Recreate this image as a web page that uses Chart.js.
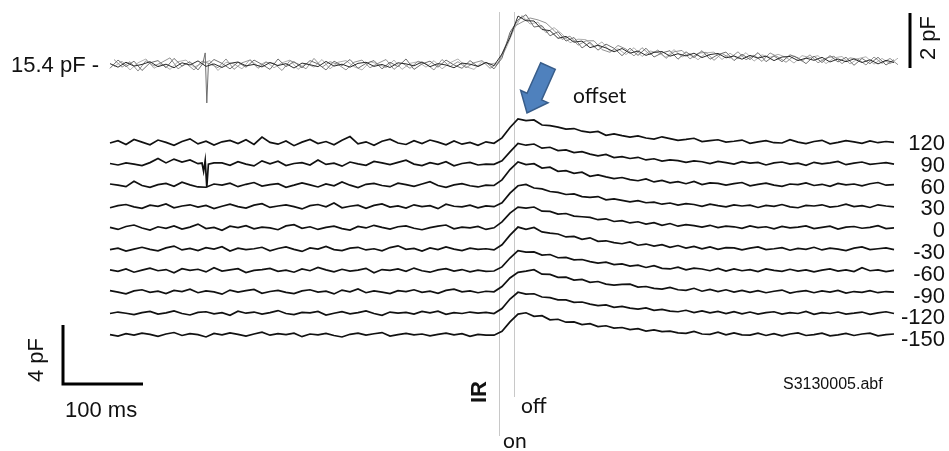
<!DOCTYPE html>
<html>
<head>
<meta charset="utf-8">
<script src="https://cdn.jsdelivr.net/npm/chart.js@4.4.0/dist/chart.umd.min.js"></script>
<style>
  html, body { margin: 0; padding: 0; background: #fff; }
  canvas { display: block; }
</style>
</head>
<body>
<canvas id="capChart" width="949" height="451"></canvas>
<script>
// sweep time (ms), one sample every 10 ms; some sweeps were sampled half a step later
const timeMs = [0,10,20,30,40,50,60,70,80,90,100,110,120,130,140,150,160,170,180,190,200,210,220,230,240,250,260,270,280,290,300,310,320,330,340,350,360,370,380,390,400,410,420,430,440,450,460,470,480,490,500,510,520,530,540,550,560,570,580,590,600,610,620,630,640,650,660,670,680,690,700,710,720,730,740,750,760,770,780,790,800,810,820,830,840,850,860,870,880,890,900,910,920,930,940,950,960,970,980];
const timeMsLate = [5,15,25,35,45,55,65,75,85,95,105,115,125,135,145,155,165,175,185,195,205,215,225,235,245,255,265,275,285,295,305,315,325,335,345,355,365,375,385,395,405,415,425,435,445,455,465,475,485,495,505,515,525,535,545,555,565,575,585,595,605,615,625,635,645,655,665,675,685,695,705,715,725,735,745,755,765,775,785,795,805,815,825,835,845,855,865,875,885,895,905,915,925,935,945,955,965,975,985];

// IR pulse on / off (ms)
const irOnMs = 486;
const irOffMs = 505;

// top panel: overlaid sweeps, pF above the 15.4 pF resting level
const topBaselinePF = 15.4;
const topRunA = [0.05,-0.08,0.10,-0.04,0.02,0.12,-0.06,0.03,-0.10,0.08,0.00,0.15,-0.05,0.04,-0.09,0.06,0.11,-0.03,0.02,-0.07,0.09,-0.02,0.05,-0.11,0.07,0.01,-0.06,0.13,-0.04,0.03,-0.08,0.06,0.10,-0.05,0.02,-0.09,0.08,0.04,-0.03,0.11,-0.06,0.05,0.00,-0.10,0.07,0.03,-0.05,0.09,-0.02,
  0.40,1.00,1.78,1.61,1.60,1.29,1.25,0.97,1.04,0.83,0.87,0.63,0.72,0.62,0.48,0.60,0.43,0.51,0.35,0.46,0.49,0.32,0.41,0.33,0.43,0.27,0.38,0.42,0.26,0.33,0.21,0.35,0.25,0.32,0.16,0.29,0.31,0.16,0.25,0.17,0.28,0.11,0.22,0.12,0.22,0.09,0.19,0.04,0.17,0.09];
const topRunB = [-0.12,0.18,-0.06,0.14,-0.20,0.08,0.16,-0.10,0.24,-0.04,0.12,-0.18,-0.10,0.20,0.06,-0.14,0.10,-0.08,0.18,0.02,-0.16,0.22,-0.06,0.12,-0.10,0.16,0.04,-0.18,0.14,-0.02,0.20,-0.12,0.06,0.16,-0.14,0.10,-0.06,0.22,-0.16,0.04,0.14,-0.08,0.18,0.00,-0.12,0.16,-0.06,0.10,-0.14,
  0.25,1.19,1.64,1.83,1.38,1.43,1.06,1.21,0.87,1.00,0.62,0.82,0.54,0.76,0.61,0.34,0.61,0.35,0.61,0.29,0.44,0.52,0.21,0.48,0.27,0.52,0.21,0.38,0.47,0.16,0.39,0.20,0.45,0.12,0.33,0.12,0.37,0.26,0.05,0.32,0.09,0.34,0.11,0.28,-0.01,0.24,0.05,0.28,0.00,0.19];
// brief artefact in sweep B
const topSpikeMs = [116,119,121,123];
const topSpikePF = [0.05,0.44,-1.38,0.02];
const topRunC = [0.20,-0.08,0.12,-0.22,0.16,-0.04,0.10,0.26,-0.14,0.06,-0.18,0.14,0.04,-0.10,0.22,-0.16,0.08,0.18,-0.12,0.10,0.06,-0.20,0.16,0.04,-0.14,0.24,-0.08,0.12,0.02,-0.18,0.10,0.18,-0.10,0.06,0.20,-0.16,0.08,-0.12,0.14,0.04,-0.18,0.20,-0.06,0.12,-0.10,0.08,0.16,-0.12,0.06,
  0.75,1.40,1.56,1.71,1.64,1.53,1.26,0.93,1.05,0.72,0.88,0.88,0.56,0.46,0.71,0.58,0.33,0.63,0.37,0.55,0.24,0.48,0.53,0.22,0.43,0.46,0.17,0.42,0.25,0.48,0.19,0.36,0.13,0.44,0.29,0.10,0.33,0.14,0.37,0.08,0.25,0.32,0.05,0.26,0.21,0.00,0.29,0.06,0.24,0.01];
const topRunD = [-0.06,0.14,-0.18,0.08,0.22,-0.12,0.04,-0.16,0.12,0.18,-0.08,0.06,0.16,-0.20,0.10,0.04,-0.14,0.20,-0.04,0.12,-0.10,0.08,0.18,-0.16,0.06,-0.08,0.20,-0.14,0.10,0.16,-0.06,-0.18,0.12,0.04,-0.10,0.18,-0.16,0.06,0.12,-0.08,0.16,-0.14,0.08,0.22,-0.06,-0.16,0.12,0.04,0.08,
  0.60,1.30,1.80,1.49,1.56,1.17,1.36,1.13,0.81,0.94,0.92,0.64,0.84,0.50,0.59,0.38,0.63,0.31,0.51,0.45,0.28,0.56,0.29,0.42,0.19,0.44,0.47,0.20,0.43,0.22,0.45,0.14,0.37,0.28,0.39,0.28,0.07,0.34,0.27,0.34,0.05,0.26,0.31,0.04,0.23,0.30,0.03,0.24,0.04,0.25];

// lower panel: one averaged trace per condition, change in pF
const conditionLabels = ['120','90','60','30','0','-30','-60','-90','-120','-150'];
const trace120 = [0.00,0.16,-0.10,0.24,0.06,-0.12,0.20,0.04,-0.16,0.10,0.28,-0.06,0.12,-0.14,0.08,0.18,-0.04,0.22,-0.10,0.40,0.04,-0.08,0.14,-0.18,0.06,0.24,-0.04,0.10,-0.12,0.18,0.44,-0.06,0.08,-0.16,0.12,0.26,0.00,-0.10,0.16,-0.04,0.20,0.06,-0.12,0.14,-0.08,0.04,-0.16,0.08,
  -0.02,0.35,1.05,1.63,1.52,1.56,1.22,1.18,1.08,0.94,0.98,0.80,0.72,0.78,0.52,0.62,0.50,0.40,0.48,0.34,0.26,0.42,0.30,0.18,0.24,0.32,0.10,0.16,0.22,0.06,0.12,0.20,-0.02,0.08,0.16,0.02,0.00,0.22,0.06,-0.04,0.10,0.18,-0.06,0.04,0.16,0.08,-0.02,0.14,0.02,0.10,0.04];
const trace90 = [0.06,-0.04,0.10,0.02,-0.08,0.12,0.40,0.10,0.36,0.16,0.30,0.05,0.08,0.10,0.10,-0.06,0.18,0.02,-0.10,0.24,0.04,0.22,-0.08,0.06,0.12,-0.04,0.30,0.00,0.08,-0.12,0.16,0.04,-0.06,0.20,0.10,-0.02,0.14,0.28,0.02,-0.08,0.12,0.00,0.18,-0.10,0.06,0.14,-0.04,0.02,
  0.00,0.25,0.85,1.42,1.30,1.38,1.10,1.16,0.94,0.98,0.80,0.86,0.70,0.58,0.68,0.46,0.52,0.40,0.48,0.30,0.38,0.22,0.30,0.26,0.14,0.24,0.18,0.06,0.20,0.12,0.02,0.18,0.08,0.14,-0.04,0.10,0.16,0.02,0.08,-0.06,0.14,0.04,0.10,0.20,-0.02,0.08,0.16,0.00,0.06,0.12,0.02];
// artefact in the 90 trace
const trace90SpikeMs = [115,117,119,121,123];
const trace90SpikePF = [0.09,-0.47,0.27,-1.55,0.02];
const trace60 = [0.12,0.04,-0.06,0.30,0.02,-0.10,0.08,0.16,-0.04,0.24,0.06,-0.08,-0.10,0.12,0.04,0.18,-0.06,0.10,0.22,-0.02,0.08,0.14,-0.10,0.04,0.20,0.06,-0.08,0.12,0.00,0.26,0.04,-0.12,0.10,0.16,0.02,-0.06,0.18,0.08,-0.04,0.12,0.28,0.02,-0.10,0.06,0.14,0.00,-0.08,0.04,
  0.02,0.40,1.10,1.62,1.44,1.50,1.20,1.26,0.98,1.02,0.84,0.92,0.64,0.74,0.60,0.48,0.56,0.42,0.34,0.46,0.26,0.36,0.20,0.28,0.14,0.30,0.08,0.20,0.16,0.04,0.14,0.22,0.00,0.10,0.18,0.04,-0.04,0.12,0.08,0.20,0.02,0.10,-0.04,0.16,0.06,0.12,0.00,0.14,0.22,0.04,0.08];
const trace30 = [-0.04,0.10,0.18,0.02,-0.08,0.14,0.06,0.22,-0.04,0.08,0.16,0.00,0.12,-0.10,0.06,0.20,0.04,-0.06,0.14,0.24,-0.02,0.08,0.16,0.04,-0.12,0.10,0.18,0.02,0.28,-0.04,0.06,0.14,-0.08,0.12,0.22,0.00,0.08,-0.06,0.16,0.04,0.10,-0.10,0.20,0.06,0.02,0.14,-0.04,0.08,
  0.03,0.30,0.95,1.45,1.54,1.30,1.24,1.06,1.00,0.86,0.90,0.72,0.66,0.72,0.50,0.56,0.46,0.36,0.44,0.30,0.34,0.20,0.28,0.14,0.24,0.18,0.06,0.20,0.10,0.02,0.16,0.08,0.14,-0.02,0.12,0.06,0.18,0.02,-0.04,0.12,0.08,0.16,0.00,0.06,0.20,0.04,0.10,-0.02,0.16,0.08,0.02];
const trace0 = [0.08,-0.06,0.14,0.24,0.04,-0.10,0.12,0.02,0.18,-0.04,0.10,0.30,0.00,0.08,-0.12,0.16,0.06,0.20,-0.02,0.10,0.04,-0.08,0.18,0.26,0.02,0.12,-0.06,0.08,0.16,0.00,-0.10,0.14,0.04,0.22,0.08,-0.04,0.12,0.18,0.02,-0.08,0.06,0.16,0.24,-0.02,0.10,0.04,0.14,-0.06,
  0.05,0.45,1.05,1.45,1.38,1.46,1.18,1.16,0.98,1.02,0.84,0.80,0.76,0.60,0.66,0.48,0.54,0.38,0.46,0.30,0.40,0.22,0.34,0.16,0.26,0.20,0.10,0.22,0.06,0.16,0.12,0.02,0.18,0.06,0.12,-0.02,0.14,0.04,0.10,0.18,0.00,0.08,0.16,-0.04,0.10,0.14,0.02,0.08,0.20,0.00,0.04];
const traceM30 = [0.02,0.12,-0.08,0.06,0.18,0.04,-0.06,0.14,0.26,0.00,0.10,-0.04,0.16,0.06,0.22,-0.08,0.12,0.02,0.08,0.18,-0.06,0.10,0.20,0.04,-0.10,0.14,0.06,0.24,0.02,-0.04,0.12,0.18,0.00,0.08,-0.06,0.16,0.28,0.04,0.10,-0.08,0.14,0.02,0.20,0.06,-0.04,0.12,0.04,0.08,
  0.00,0.35,1.00,1.55,1.40,1.52,1.22,1.14,1.08,0.88,0.92,0.72,0.82,0.58,0.62,0.50,0.42,0.54,0.32,0.40,0.26,0.36,0.18,0.30,0.12,0.24,0.08,0.20,0.04,0.16,0.14,0.00,0.12,0.20,0.02,0.08,0.16,-0.02,0.10,0.04,0.18,0.00,0.12,0.06,-0.04,0.12,0.20,0.02,0.08,0.14,0.02];
const traceM60 = [0.10,0.00,0.16,-0.06,0.08,0.22,0.04,0.12,-0.10,0.18,0.06,0.14,-0.04,0.24,0.02,0.10,0.18,-0.08,0.06,0.12,0.20,0.00,0.08,-0.06,0.16,0.04,0.26,0.10,-0.04,0.14,0.02,0.08,0.20,-0.10,0.12,0.06,0.16,0.00,0.22,0.04,-0.06,0.10,0.18,0.02,0.12,-0.04,0.08,0.00,
  0.02,0.30,0.90,1.40,1.30,1.32,1.10,1.14,0.92,0.94,0.78,0.80,0.66,0.56,0.62,0.46,0.50,0.36,0.42,0.26,0.38,0.20,0.16,0.28,0.10,0.22,0.16,0.04,0.20,0.02,0.16,0.04,0.12,-0.02,0.16,0.06,0.00,0.14,0.02,0.10,-0.04,0.08,0.16,0.02,0.10,-0.02,0.24,0.04,0.10,-0.02,0.06];
const traceM90 = [0.14,0.04,-0.08,0.12,0.20,0.02,0.10,-0.06,0.16,0.08,0.24,0.00,0.12,0.06,-0.10,0.18,0.04,0.14,0.22,-0.04,0.08,0.16,0.02,-0.06,0.12,0.20,0.04,0.10,-0.08,0.18,0.06,0.26,0.00,0.12,0.04,-0.06,0.14,0.08,0.20,0.02,0.10,-0.04,0.16,0.24,0.06,0.12,0.00,0.10,
  0.06,0.42,1.00,1.38,1.46,1.56,1.26,1.24,1.04,1.06,0.86,0.90,0.70,0.76,0.58,0.52,0.56,0.58,0.38,0.42,0.30,0.24,0.36,0.20,0.16,0.30,0.10,0.22,0.08,0.20,0.04,0.16,0.02,0.14,0.00,0.10,0.18,-0.02,0.08,0.14,0.00,0.12,0.04,0.16,-0.02,0.08,0.02,0.14,0.00,0.08,0.04];
const traceM120 = [0.04,0.14,0.06,-0.04,0.10,0.18,0.00,0.08,0.22,0.04,-0.06,0.12,0.16,0.02,0.10,-0.08,0.20,0.06,0.14,0.00,0.10,0.24,0.04,-0.04,0.12,0.08,0.18,-0.06,0.06,0.16,0.02,0.10,0.22,0.04,-0.08,0.14,0.06,0.12,0.00,0.18,0.08,0.20,-0.02,0.10,0.04,0.14,0.06,0.12,
  0.04,0.38,1.02,1.48,1.36,1.38,1.16,1.12,0.96,0.96,0.80,0.82,0.68,0.58,0.62,0.46,0.52,0.40,0.34,0.42,0.26,0.32,0.20,0.16,0.26,0.10,0.22,0.08,0.18,0.04,0.16,0.02,0.14,0.00,0.10,0.16,0.00,0.10,0.04,0.18,-0.02,0.10,0.04,0.14,0.00,0.06,0.14,-0.02,0.08,0.16,0.04];
const traceM150 = [0.06,-0.04,0.12,0.02,0.16,0.08,-0.06,0.10,0.20,0.00,0.12,0.06,-0.10,0.14,0.04,0.18,0.08,-0.04,0.10,0.22,0.02,0.12,0.06,0.16,-0.08,0.10,0.04,0.14,0.00,-0.10,0.08,0.16,0.02,0.12,0.20,-0.04,0.06,0.14,0.04,0.10,-0.02,0.08,0.16,0.04,0.12,-0.06,0.08,0.02,
  0.02,0.28,0.92,1.45,1.54,1.30,1.34,1.06,1.10,0.90,0.92,0.74,0.80,0.60,0.66,0.50,0.54,0.40,0.46,0.30,0.38,0.26,0.30,0.18,0.14,0.28,0.10,0.08,0.22,0.04,0.18,0.04,0.02,0.16,0.00,0.12,-0.02,0.10,0.18,0.00,0.06,0.16,-0.02,0.04,0.14,0.00,0.10,0.16,-0.02,0.06,0.10];
const conditionTraces = [trace120, trace90, trace60, trace30, trace0, traceM30, traceM60, traceM90, traceM120, traceM150];

// scale bars
const topBarPF = 2;
const lowBarPF = 4;
const lowBarMs = 100;

// ---- layout (pixels) ----
const W = 949, H = 451;
const pxPerMs = 0.8;
const sweepStartPx = 110;
const topPxPerPF = 27.5, topBaselinePx = 65;
const lowPxPerPF = 14.75, lowFirstPx = 143;
const traceStepPF = 1.45;

const xMin = -sweepStartPx / pxPerMs;
const xMax = (W - sweepStartPx) / pxPerMs;
const topMax = topBaselinePF + topBaselinePx / topPxPerPF;
const topMin = topMax - H / topPxPerPF;
const lowMax = lowFirstPx / lowPxPerPF;
const lowMin = lowMax - H / lowPxPerPF;

// samples -> points, with optional extra samples that replace the ones they cover
function toPoints(times, vals, extraTimes, extraVals) {
  let pts = vals.map((v, i) => ({x: times[i], y: v}));
  if (extraTimes) {
    const lo = extraTimes[0], hi = extraTimes[extraTimes.length - 1];
    pts = pts.filter(p => p.x < lo || p.x > hi)
      .concat(extraTimes.map((t, i) => ({x: t, y: extraVals[i]})));
    pts.sort((a, b) => a.x - b.x);
  }
  return pts;
}

const datasets = [];
const topSweeps = [
  {pts: toPoints(timeMs, topRunA), color: '#2a2a2a'},
  {pts: toPoints(timeMs, topRunB, topSpikeMs, topSpikePF), color: '#6e6e6e'},
  {pts: toPoints(timeMsLate, topRunC), color: '#929292'},
  {pts: toPoints(timeMsLate, topRunD), color: '#b0b0b0'}
];
topSweeps.forEach(s => {
  datasets.push({
    data: s.pts.map(p => ({x: p.x, y: topBaselinePF + p.y})),
    yAxisID: 'yTop', borderColor: s.color, borderWidth: 1
  });
});
conditionTraces.forEach((tr, k) => {
  const pts = k === 1 ? toPoints(timeMs, tr, trace90SpikeMs, trace90SpikePF) : toPoints(timeMs, tr);
  datasets.push({
    data: pts.map(p => ({x: p.x, y: p.y - k * traceStepPF})),
    yAxisID: 'yLow', borderColor: '#111', borderWidth: 1.7
  });
});

// scale bar positions
const topBarX = 1000, topBarLow = topBaselinePF - 0.11;
datasets.push({
  data: [{x: topBarX, y: topBarLow}, {x: topBarX, y: topBarLow + topBarPF}],
  yAxisID: 'yTop', borderColor: '#000', borderWidth: 3
});
const lowBarX = -58.75, lowBarY = -16.34;
datasets.push({
  data: [{x: lowBarX, y: lowBarY + lowBarPF}, {x: lowBarX, y: lowBarY}, {x: lowBarX + lowBarMs, y: lowBarY}],
  yAxisID: 'yLow', borderColor: '#000', borderWidth: 3
});

const SANS = '"Liberation Sans", Arial, sans-serif';
const LATO = 'Lato, "Open Sans", sans-serif';

function rotText(ctx, txt, x, y) {
  ctx.save();
  ctx.translate(x, y);
  ctx.rotate(-Math.PI / 2);
  ctx.textAlign = 'center';
  ctx.textBaseline = 'middle';
  ctx.fillText(txt, 0, 0);
  ctx.restore();
}

const decorations = {
  id: 'decorations',
  beforeDatasetsDraw(chart) {
    const ctx = chart.ctx, x = chart.scales.x;
    ctx.save();
    ctx.strokeStyle = '#c8c8c8';
    ctx.lineWidth = 1;
    [[irOnMs, 12, 436], [irOffMs, 12, 397]].forEach(([t, y0, y1]) => {
      const px = Math.round(x.getPixelForValue(t)) + 0.5;
      ctx.beginPath(); ctx.moveTo(px, y0); ctx.lineTo(px, y1); ctx.stroke();
    });
    ctx.restore();
  },
  afterDatasetsDraw(chart) {
    const ctx = chart.ctx;
    const yTop = chart.scales.yTop, yLow = chart.scales.yLow;
    ctx.save();
    ctx.fillStyle = '#111';
    ctx.font = '22px ' + SANS;
    ctx.textAlign = 'left';
    ctx.textBaseline = 'middle';
    ctx.fillText('15.4 pF -', 11, yTop.getPixelForValue(topBaselinePF) + 1);

    rotText(ctx, topBarPF + ' pF', 929, 38);
    rotText(ctx, lowBarPF + ' pF', 37, 360);

    ctx.textAlign = 'right';
    conditionLabels.forEach((lab, k) => {
      ctx.fillText(lab, 945, yLow.getPixelForValue(-k * traceStepPF) + 1 + k * 0.4);
    });

    ctx.textAlign = 'left';
    ctx.fillText(lowBarMs + ' ms', 65, 411);

    ctx.font = '16px ' + SANS;
    ctx.fillText('S3130005.abf', 783, 385);

    ctx.font = 'bold 22px ' + SANS;
    rotText(ctx, 'IR', 480, 392);

    ctx.font = '21px ' + LATO;
    ctx.textAlign = 'left';
    ctx.fillText('offset', 573, 96);
    ctx.fillText('off', 521, 406);
    ctx.fillText('on', 503, 441);

    // arrow pointing at the offset response
    const tail = [548, 66], tip = [527, 113];
    const dx = tip[0] - tail[0], dy = tip[1] - tail[1];
    const len = Math.hypot(dx, dy);
    const d = [dx / len, dy / len], n = [d[1], -d[0]];
    const headLen = 18, headHalf = 15, shaftHalf = 8;
    const base = [tip[0] - d[0] * headLen, tip[1] - d[1] * headLen];
    const pts = [
      [tail[0] + n[0] * shaftHalf, tail[1] + n[1] * shaftHalf],
      [base[0] + n[0] * shaftHalf, base[1] + n[1] * shaftHalf],
      [base[0] + n[0] * headHalf, base[1] + n[1] * headHalf],
      tip,
      [base[0] - n[0] * headHalf, base[1] - n[1] * headHalf],
      [base[0] - n[0] * shaftHalf, base[1] - n[1] * shaftHalf],
      [tail[0] - n[0] * shaftHalf, tail[1] - n[1] * shaftHalf]
    ];
    ctx.beginPath();
    pts.forEach((p, i) => i ? ctx.lineTo(p[0], p[1]) : ctx.moveTo(p[0], p[1]));
    ctx.closePath();
    ctx.fillStyle = '#4f81bd';
    ctx.fill();
    ctx.strokeStyle = '#385d8a';
    ctx.lineWidth = 1.5;
    ctx.stroke();
    ctx.restore();
  }
};

new Chart(document.getElementById('capChart'), {
  type: 'line',
  data: {datasets: datasets},
  options: {
    responsive: false,
    animation: false,
    devicePixelRatio: 1,
    layout: {padding: 0},
    elements: {point: {radius: 0}, line: {tension: 0}},
    plugins: {legend: {display: false}, tooltip: {enabled: false}},
    scales: {
      x: {type: 'linear', display: false, min: xMin, max: xMax},
      yTop: {type: 'linear', display: false, min: topMin, max: topMax},
      yLow: {type: 'linear', display: false, min: lowMin, max: lowMax}
    }
  },
  plugins: [decorations]
});
</script>
</body>
</html>
